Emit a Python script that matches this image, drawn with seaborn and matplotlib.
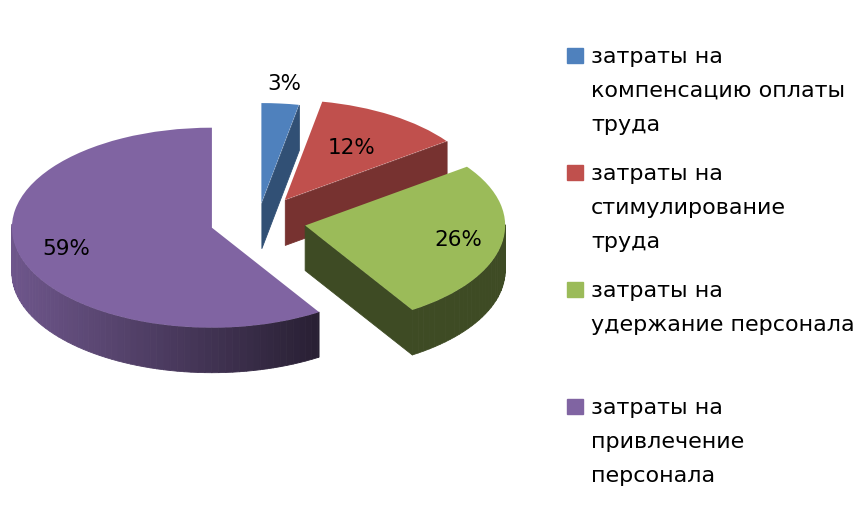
import numpy as np
import matplotlib
matplotlib.use("Agg")
import matplotlib.pyplot as plt
import matplotlib.colors as mcolors
from matplotlib.collections import PolyCollection
from matplotlib.patches import Rectangle
import seaborn as sns

# data
categories = ["затраты на\nкомпенсацию оплаты\nтруда",
              "затраты на\nстимулирование\nтруда",
              "затраты на\nудержание персонала",
              "затраты на\nпривлечение\nперсонала"]
shares = [3, 12, 26, 59]
pct_labels = ["3%", "12%", "26%", "59%"]
colors = ["#4f81bd", "#c0504d", "#9bbb59", "#8064a2"]
explode = [0.18, 0.25, 0.24, 0.24]

# look of the fake 3d
side_shade = [(0.62, 0.62), (0.62, 0.62), (0.40, 0.40), (0.86, 0.15)]  # (left, right)
label_dist = [1.2, 0.62, 0.78, 0.76]

W, H = 865, 516
CX, CY = 258, 221      # pie centre in pixels
SX, SY = 200, 100      # pixels per unit radius (squashed ellipse)
DEPTH = 0.45

sns.set_theme(style="white")
plt.rcParams['font.family'] = ['DejaVu Sans']

fig = plt.figure(figsize=(W / 100, H / 100), dpi=100)
ax = fig.add_axes([0, 0, 1, 1])
wedges, _ = ax.pie(shares, explode=explode, colors=colors, startangle=90,
                   counterclock=False, wedgeprops=dict(linewidth=0, zorder=5))
ax.set_aspect('auto')
ax.set_xlim(-CX / SX, (W - CX) / SX)
ax.set_ylim((CY - H) / SY, CY / SY)
ax.axis('off')

# side walls, drawn under the pie tops
for k, (w, (hi, lo), col) in enumerate(zip(wedges, side_shade, colors)):
    cx, cy = w.center
    t1, t2, r = w.theta1, w.theta2, w.r
    base = np.array(mcolors.to_rgb(col))

    def shade(t):
        c = np.cos(np.radians(t))
        return hi + (lo - hi) * (c + 1) / 2

    polys, fcs = [], []
    for t, vis in ((t1, np.cos(np.radians(t1)) > 1e-6),
                   (t2, np.cos(np.radians(t2)) < -1e-6)):
        if vis:
            ex = cx + r * np.cos(np.radians(t))
            ey = cy + r * np.sin(np.radians(t))
            polys.append([(cx, cy), (ex, ey), (ex, ey - DEPTH), (cx, cy - DEPTH)])
            fcs.append(base * shade(t))
    ts = np.append(np.arange(t1, t2, 2.0), t2)
    for a, b in zip(ts[:-1], ts[1:]):
        if min(np.sin(np.radians(a)), np.sin(np.radians(b))) >= 0:
            continue
        seg = np.radians(np.linspace(a, b, 4))
        top = [(cx + r * np.cos(s), cy + r * np.sin(s)) for s in seg]
        bot = [(x, y - DEPTH) for x, y in top[::-1]]
        polys.append(top + bot)
        fcs.append(base * shade((a + b) / 2))
    pc = PolyCollection(polys, facecolors=fcs, edgecolors=fcs, linewidths=0.6,
                        zorder=1 + k * 0.1)
    ax.add_collection(pc)

# percent labels
for w, lab, d in zip(wedges, pct_labels, label_dist):
    cx, cy = w.center
    m = np.radians((w.theta1 + w.theta2) / 2)
    ax.text(cx + d * np.cos(m), cy + d * np.sin(m), lab, ha='center', va='center',
            fontsize=15.5, color='black', zorder=6)

# legend
for i, (lab, col) in enumerate(zip(categories, colors)):
    base_y = 63 + 117 * i
    fig.patches.append(Rectangle((567 / W, 1 - base_y / H), 16 / W, 15 / H,
                                 transform=fig.transFigure, color=col))
    for j, line in enumerate(lab.split("\n")):
        fig.text(591 / W, 1 - (base_y + 34 * j) / H, line, va='baseline',
                 ha='left', fontsize=16, color='black')

fig.savefig('out.png', dpi=100, facecolor='white')
